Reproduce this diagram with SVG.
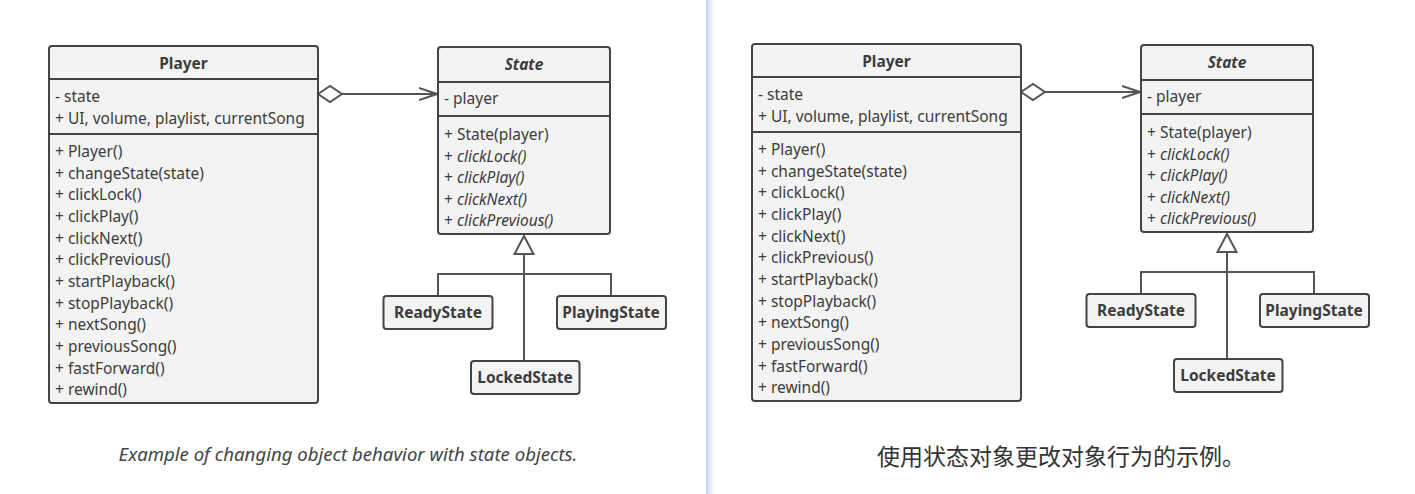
<svg xmlns="http://www.w3.org/2000/svg" width="1415" height="494" viewBox="0 0 1415 494">
<defs>
<linearGradient id="div" x1="0" y1="0" x2="1" y2="0">
<stop offset="0" stop-color="#b3cff7"/>
<stop offset="1" stop-color="#ffffff" stop-opacity="0"/>
</linearGradient>
<marker id="open" markerWidth="20" markerHeight="14" refX="18" refY="7" orient="auto" markerUnits="userSpaceOnUse">
<path d="M0,1 L18,7 L0,13" fill="none" stroke="#555" stroke-width="2"/>
</marker>
</defs>
<style>
.box{fill:#f3f3f3;stroke:#444;stroke-width:2}
.sep{stroke:#444;stroke-width:2}
.t{font-family:"Noto Sans","Open Sans","Liberation Sans",sans-serif;font-size:15.5px;fill:#3c3c3c}
.i{font-style:italic}
.b{font-weight:bold;text-anchor:middle}
.con{fill:none;stroke:#555;stroke-width:2}
.cap{font-family:"Noto Sans","Liberation Sans",sans-serif;font-size:18.6px;font-style:italic;fill:#444;text-anchor:middle}
.capzh{font-family:"Noto Sans CJK SC",sans-serif;font-size:23px;fill:#333;text-anchor:middle}
</style>
<rect x="0" y="0" width="1415" height="494" fill="#fff"/>
<rect x="706" y="0" width="11" height="494" fill="url(#div)"/>

<g id="panel-en">
<g id="connectors-en">
<path class="con" d="M342,94 L437,94" marker-end="url(#open)"/>
<path class="con" d="M318,94 L330,86 L342,94 L330,102 Z" style="fill:#fff"/>
<path class="con" d="M524,254 L524,361"/>
<path class="con" d="M438,296 L438,274 L611,274 L611,296"/>
<path class="con" d="M524,236 L514.5,254 L533.5,254 Z" style="fill:#fff"/>
</g>
<g id="player-en">
<rect class="box" x="49" y="46" width="269" height="357" rx="3"/>
<line class="sep" x1="49" y1="79" x2="318" y2="79"/>
<line class="sep" x1="49" y1="134" x2="318" y2="134"/>
<text class="t b" x="183.5" y="69">Player</text>
<text class="t" x="55" y="102">- state</text>
<text class="t" x="55" y="124">+ UI, volume, playlist, currentSong</text>
<text class="t" x="55" y="157">+ Player()</text>
<text class="t" x="55" y="178.7">+ changeState(state)</text>
<text class="t" x="55" y="200.3">+ clickLock()</text>
<text class="t" x="55" y="222">+ clickPlay()</text>
<text class="t" x="55" y="243.7">+ clickNext()</text>
<text class="t" x="55" y="265.3">+ clickPrevious()</text>
<text class="t" x="55" y="287">+ startPlayback()</text>
<text class="t" x="55" y="308.7">+ stopPlayback()</text>
<text class="t" x="55" y="330.3">+ nextSong()</text>
<text class="t" x="55" y="352">+ previousSong()</text>
<text class="t" x="55" y="373.7">+ fastForward()</text>
<text class="t" x="55" y="395.3">+ rewind()</text>
</g>
<g id="state-en">
<rect class="box" x="438" y="47" width="172" height="187" rx="3"/>
<line class="sep" x1="438" y1="82" x2="610" y2="82"/>
<line class="sep" x1="438" y1="116" x2="610" y2="116"/>
<text class="t b i" x="524" y="69.5">State</text>
<text class="t" x="444" y="104">- player</text>
<text class="t" x="444" y="140">+ State(player)</text>
<text class="t" x="444" y="161.5">+ <tspan class="i">clickLock()</tspan></text>
<text class="t" x="444" y="183">+ <tspan class="i">clickPlay()</tspan></text>
<text class="t" x="444" y="204.5">+ <tspan class="i">clickNext()</tspan></text>
<text class="t" x="444" y="226">+ <tspan class="i">clickPrevious()</tspan></text>
</g>
<g id="ready-en">
<rect class="box" x="383.5" y="296" width="109" height="33" rx="3"/>
<text class="t b" x="438" y="318">ReadyState</text>
</g>
<g id="playing-en">
<rect class="box" x="557" y="296" width="109" height="33" rx="3"/>
<text class="t b" x="611" y="318">PlayingState</text>
</g>
<g id="locked-en">
<rect class="box" x="471" y="361" width="108.5" height="33" rx="3"/>
<text class="t b" x="525" y="383">LockedState</text>
</g>
<text class="cap" x="348" y="461">Example of changing object behavior with state objects.</text>
</g>

<g id="panel-zh" transform="translate(703,-2)">
<g id="connectors-zh">
<path class="con" d="M342,94 L437,94" marker-end="url(#open)"/>
<path class="con" d="M318,94 L330,86 L342,94 L330,102 Z" style="fill:#fff"/>
<path class="con" d="M524,254 L524,361"/>
<path class="con" d="M438,296 L438,274 L611,274 L611,296"/>
<path class="con" d="M524,236 L514.5,254 L533.5,254 Z" style="fill:#fff"/>
</g>
<g id="player-zh">
<rect class="box" x="49" y="46" width="269" height="357" rx="3"/>
<line class="sep" x1="49" y1="79" x2="318" y2="79"/>
<line class="sep" x1="49" y1="134" x2="318" y2="134"/>
<text class="t b" x="183.5" y="69">Player</text>
<text class="t" x="55" y="102">- state</text>
<text class="t" x="55" y="124">+ UI, volume, playlist, currentSong</text>
<text class="t" x="55" y="157">+ Player()</text>
<text class="t" x="55" y="178.7">+ changeState(state)</text>
<text class="t" x="55" y="200.3">+ clickLock()</text>
<text class="t" x="55" y="222">+ clickPlay()</text>
<text class="t" x="55" y="243.7">+ clickNext()</text>
<text class="t" x="55" y="265.3">+ clickPrevious()</text>
<text class="t" x="55" y="287">+ startPlayback()</text>
<text class="t" x="55" y="308.7">+ stopPlayback()</text>
<text class="t" x="55" y="330.3">+ nextSong()</text>
<text class="t" x="55" y="352">+ previousSong()</text>
<text class="t" x="55" y="373.7">+ fastForward()</text>
<text class="t" x="55" y="395.3">+ rewind()</text>
</g>
<g id="state-zh">
<rect class="box" x="438" y="47" width="172" height="187" rx="3"/>
<line class="sep" x1="438" y1="82" x2="610" y2="82"/>
<line class="sep" x1="438" y1="116" x2="610" y2="116"/>
<text class="t b i" x="524" y="69.5">State</text>
<text class="t" x="444" y="104">- player</text>
<text class="t" x="444" y="140">+ State(player)</text>
<text class="t" x="444" y="161.5">+ <tspan class="i">clickLock()</tspan></text>
<text class="t" x="444" y="183">+ <tspan class="i">clickPlay()</tspan></text>
<text class="t" x="444" y="204.5">+ <tspan class="i">clickNext()</tspan></text>
<text class="t" x="444" y="226">+ <tspan class="i">clickPrevious()</tspan></text>
</g>
<g id="ready-zh">
<rect class="box" x="383.5" y="296" width="109" height="33" rx="3"/>
<text class="t b" x="438" y="318">ReadyState</text>
</g>
<g id="playing-zh">
<rect class="box" x="557" y="296" width="109" height="33" rx="3"/>
<text class="t b" x="611" y="318">PlayingState</text>
</g>
<g id="locked-zh">
<rect class="box" x="471" y="361" width="108.5" height="33" rx="3"/>
<text class="t b" x="525" y="383">LockedState</text>
</g>
</g>
<text class="capzh" x="1061" y="465">使用状态对象更改对象行为的示例。</text>
</svg>
